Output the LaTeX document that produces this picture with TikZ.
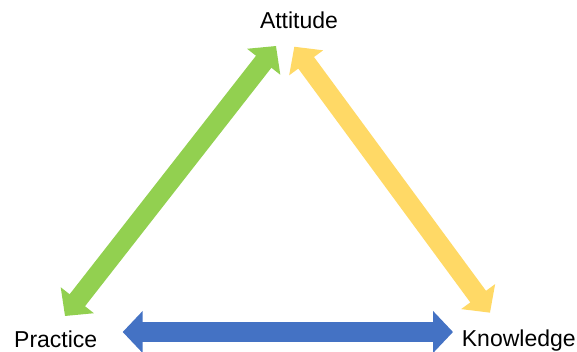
\documentclass[tikz,border=0pt]{standalone}
\usepackage{fontspec}
\setmainfont{Liberation Sans}
\usetikzlibrary{arrows.meta}
\definecolor{grn}{HTML}{92D050}
\definecolor{ylw}{HTML}{FFD966}
\definecolor{blu}{HTML}{4472C4}
\begin{document}
\begin{tikzpicture}[x=1pt,y=1pt,font=\fontsize{23}{27}\selectfont,
	dbl/.style={line width=19.5pt,{Triangle[width=41pt,length=20pt]}-{Triangle[width=41pt,length=20pt]}}]
			\useasboundingbox(0,0)rectangle(577,351);
			\node[anchor=base](att)at(299,322){Attitude};
			\node[anchor=base](prac)at(55.7,4){Practice};
			\node[anchor=base](know)at(518.8,4.3){Knowledge};
			\coordinate(Gb)at(65,35);
			\coordinate(Ge)at(276,305);
			\coordinate(Yb)at(294.3,304.3);
			\coordinate(Ye)at(490,38.3);
			\coordinate(Bb)at(122.7,19);
			\coordinate(Be)at(453,19);
			\draw[dbl,grn](Gb)--(Ge);
			\draw[dbl,ylw](Yb)--(Ye);
			\draw[dbl,blu](Bb)--(Be);
		\end{tikzpicture}
\end{document}
